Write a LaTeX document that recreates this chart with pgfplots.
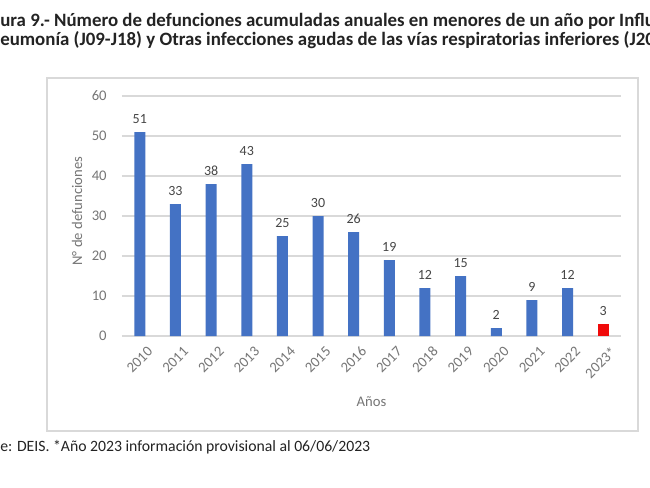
\documentclass[border=0pt]{standalone}
\usepackage{pgfplots}
\pgfplotsset{compat=1.18}
\usepackage{fontspec}
\setmainfont{Carlito}
\definecolor{barblue}{RGB}{68,114,196}
\definecolor{barred}{RGB}{240,10,10}
\definecolor{gridgray}{RGB}{217,217,217}
\definecolor{tickgray}{RGB}{118,118,118}
\definecolor{labelgray}{RGB}{70,70,70}
\definecolor{titlecol}{RGB}{35,35,35}
\begin{document}
\begin{tikzpicture}
\clip (0,0) rectangle (487.5pt,-365.25pt);
\fill[white] (0,0) rectangle (487.5pt,-365.25pt);
\draw[gridgray, line width=0.8pt] (35.25pt,-58.5pt) rectangle (478.5pt,-323.25pt);
\node[anchor=base west, inner sep=0pt, font=\fontsize{14.15}{17}\selectfont\bfseries, text=titlecol] at (0pt,-19.5pt) {\llap{Fig}ura 9.- Número de defunciones acumuladas anuales en menores de un año por Influenza (J09-J11),};
\node[anchor=base west, inner sep=0pt, font=\fontsize{14.15}{17}\selectfont\bfseries, text=titlecol] at (0pt,-33.75pt) {\llap{N}eumonía (J09-J18) y Otras infecciones agudas de las vías respiratorias inferiores (J20-J22)};
\node[anchor=base west, inner sep=0pt, font=\fontsize{11.8}{14}\selectfont, text=titlecol] at (0pt,-338.5pt) {\llap{Fuent}e: DEIS. *Año 2023 información provisional al 06/06/2023};
\begin{axis}[
  at={(91.5pt,-252pt)}, anchor=south west,
  scale only axis, width=374.25pt, height=180pt,
  ybar, bar width=8.25pt, bar shift=0pt,
  xmin=-0.5, xmax=13.5, ymin=0, ymax=60,
  ytick={0,10,...,60},
  xtick={0,...,13},
  xticklabels={2010,2011,2012,2013,2014,2015,2016,2017,2018,2019,2020,2021,2022,2023*},
  xticklabel style={rotate=45, anchor=east, font=\fontsize{11}{13}\selectfont, text=tickgray, yshift=-12.5pt, xshift=2pt},
  yticklabel style={font=\fontsize{11}{13}\selectfont, text=tickgray, xshift=-8pt},
  /pgf/number format/assume math mode=true,
  axis line style={draw=none},
  axis x line*=bottom,
  major tick length=0pt,
  ymajorgrids, grid style={gridgray, line width=0.8pt},
  xlabel={Años}, ylabel={N° de defunciones},
  xlabel style={font=\fontsize{11}{13}\selectfont, text=tickgray, at={(axis description cs:0.5,-0.275)}, anchor=center},
  ylabel style={font=\fontsize{11}{13}\selectfont, text=tickgray, at={(axis description cs:-0.0902,0.52)}, anchor=center},
  nodes near coords,
  nodes near coords style={font=\fontsize{10.5}{12}\selectfont, text=labelgray, yshift=2.5pt},
  clip=false,
]
\addplot[fill=barblue, draw=none] coordinates {(0,51) (1,33) (2,38) (3,43) (4,25) (5,30) (6,26) (7,19) (8,12) (9,15) (10,2) (11,9) (12,12)};
\addplot[fill=barred, draw=none] coordinates {(13,3)};
\end{axis}
\end{tikzpicture}
\end{document}
